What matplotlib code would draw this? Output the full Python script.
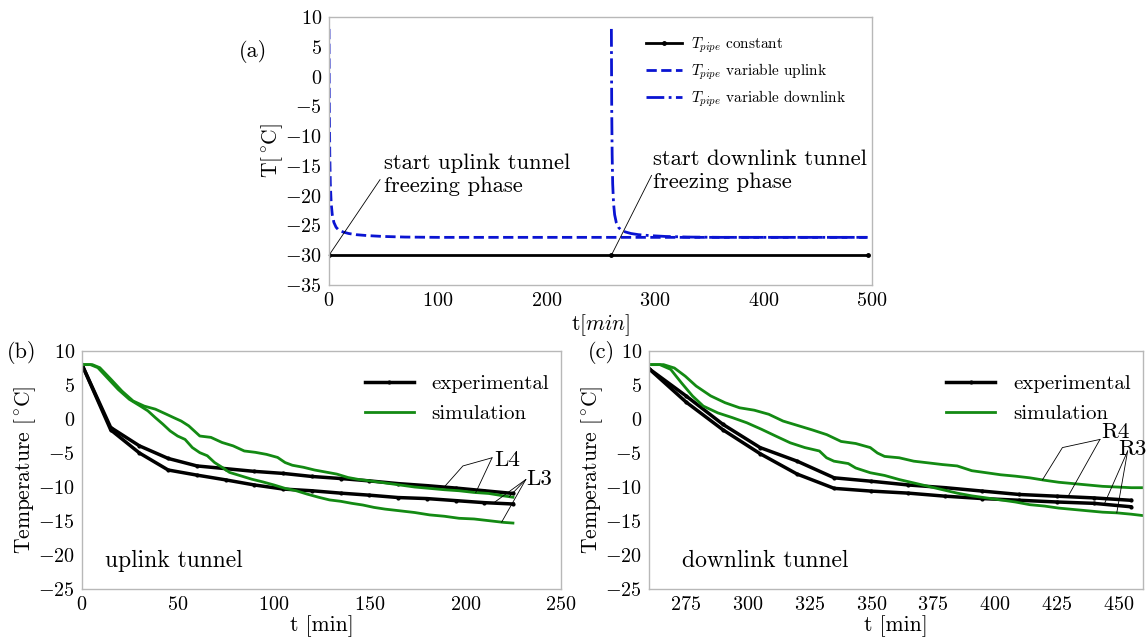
import numpy as np
import matplotlib
matplotlib.use('Agg')
import matplotlib.pyplot as plt

plt.rcParams['font.family'] = ['cmr10', 'DejaVu Serif']
plt.rcParams['mathtext.fontset'] = 'cm'
plt.rcParams['axes.formatter.use_mathtext'] = True

# (a) pipe temperature during the freezing phases
t_const = [0, 260, 496]
T_const = [-30, -30, -30]

t_up = [0, 0.3, 0.7, 1.2, 2, 3, 4.5, 6.5, 9, 13, 18, 25, 35, 50, 70, 100, 496]
T_up = [8, -5, -13, -18, -21.3, -23.2, -24.5, -25.3, -25.8, -26.1, -26.35, -26.55,
        -26.7, -26.85, -26.95, -27.0, -27.0]

t_down = [260, 260.3, 260.7, 261.2, 262, 263, 264.5, 266.5, 269, 273, 278, 285,
          295, 310, 330, 360, 496]
T_down = [8, -5, -13, -18, -21.3, -23.2, -24.5, -25.3, -25.8, -26.1, -26.35, -26.55,
          -26.7, -26.85, -26.95, -27.0, -27.0]

# (b) uplink tunnel, sensors L3 / L4
t_exp_up = [0, 15, 30, 45, 60, 75, 90, 105, 120, 135, 150, 165, 180, 195, 210, 225]
L4_exp = [8.0, -1.25, -3.95, -5.8, -6.9, -7.3, -7.7, -8.0, -8.45, -8.75, -9.1, -9.5,
          -9.8, -10.15, -10.55, -10.95]
L3_exp = [8.0, -1.6, -5.0, -7.5, -8.25, -8.95, -9.7, -10.3, -10.55, -10.9, -11.2,
          -11.55, -11.7, -12.0, -12.3, -12.5]

t_L4_sim = [0, 5.4, 9.3, 15.1, 20.9, 26.7, 32.5, 38.3, 44.1, 47.9, 51.8, 55.7, 61.5,
            67.3, 73.1, 78.9, 84.7, 90.5, 96.3, 102.1, 106, 109.8, 115.6, 121.4, 127.2,
            133, 138.8, 144.6, 150.4, 158.2, 165.9, 173.6, 181.4, 189.1, 196.8, 204.6,
            212.3, 220, 224.9]
L4_sim = [8.0, 8.0, 7.55, 5.85, 4.1, 2.65, 1.9, 1.45, 0.7, 0.2, -0.3, -1.0, -2.5,
          -2.7, -3.45, -3.95, -4.7, -4.9, -5.2, -5.65, -6.4, -6.8, -7.1, -7.5, -7.8,
          -8.1, -8.6, -8.9, -9.1, -9.4, -9.7, -10.0, -10.2, -10.4, -10.55, -10.8,
          -10.95, -11.3, -11.5]

t_L3_sim = [0, 4.4, 8.3, 13.1, 18.9, 24.7, 30.5, 34.4, 38.3, 42.2, 46.0, 49.9, 53.8,
            57.6, 61.5, 65.4, 69.2, 73.1, 77, 82.8, 88.6, 94.4, 100.2, 106, 111.8,
            117.6, 123.4, 129.2, 135, 140.8, 146.6, 152.4, 158.2, 165.9, 173.6, 181.4,
            189.1, 196.8, 204.6, 212.3, 220, 224.9]
L3_sim = [8.0, 8.0, 7.55, 6.1, 4.35, 2.9, 1.9, 1.2, 0.2, -0.75, -1.75, -2.5, -3.0,
          -4.2, -4.95, -5.4, -6.4, -7.1, -7.85, -8.35, -8.85, -9.25, -9.7, -10.2,
          -10.55, -11.05, -11.5, -11.9, -12.1, -12.4, -12.65, -13.0, -13.25, -13.5,
          -13.75, -14.1, -14.3, -14.6, -14.7, -14.95, -15.2, -15.3]

# (c) downlink tunnel, sensors R3 / R4
t_exp_down = [260, 275, 290, 305, 320, 335, 350, 365, 380, 395, 410, 425, 440, 455]
R4_exp = [7.4, 3.4, -0.8, -4.2, -6.2, -8.65, -9.15, -9.7, -10.1, -10.6, -11.1,
          -11.35, -11.6, -11.95]
R3_exp = [7.4, 2.5, -1.6, -5.1, -8.1, -10.2, -10.6, -10.9, -11.35, -11.7, -11.95,
          -12.2, -12.4, -12.9]

t_R4_sim = [260, 265.9, 270.3, 274.7, 279.1, 285, 290.8, 296.7, 302.6, 308.5, 314.3,
            320.2, 326.1, 332, 334.9, 337.8, 343.7, 349.6, 352.5, 355.4, 361.3, 367.2,
            373.1, 378.9, 384.8, 390.7, 396.6, 402.4, 408.3, 414.2, 420.1, 425.9,
            431.8, 437.7, 443.6, 449.4, 455.3, 460]
R4_sim = [8.0, 8.0, 7.5, 6.3, 4.85, 3.4, 2.4, 1.65, 1.3, 0.7, -0.3, -0.95, -1.6, -2.3,
          -2.8, -3.3, -3.6, -4.2, -5.0, -5.5, -5.7, -6.2, -6.45, -6.7, -6.9, -7.6,
          -7.9, -8.2, -8.4, -8.65, -9.0, -9.3, -9.5, -9.7, -9.9, -10.0, -10.1, -10.1]

t_R3_sim = [260, 264.4, 268.8, 273.2, 277.6, 282, 287.9, 293.8, 299.6, 305.5, 311.3,
            317.2, 323.1, 329, 331.9, 334.9, 340.7, 343.7, 349.6, 355.4, 361.3, 367.2,
            373.1, 378.9, 384.8, 390.7, 396.6, 402.4, 408.3, 414.2, 420.1, 425.9,
            431.8, 437.7, 443.6, 449.4, 455.3, 460]
R3_sim = [8.0, 8.0, 7.3, 5.3, 3.4, 1.9, 0.9, 0.2, -0.55, -1.5, -2.5, -3.5, -4.2, -4.7,
          -5.7, -6.2, -6.55, -7.2, -7.9, -8.3, -8.9, -9.4, -9.9, -10.4, -10.9, -11.3,
          -11.6, -11.9, -12.2, -12.6, -12.8, -13.1, -13.3, -13.5, -13.7, -13.8, -14.0,
          -14.2]

BLACK = 'black'
GREEN = '#138a13'
BLUE = '#0a14d2'
SPINE = '#b8b8b8'


def style_axes(ax):
    for s in ax.spines.values():
        s.set_color(SPINE)
        s.set_linewidth(1.0)
    ax.tick_params(length=0, labelsize=14.5, pad=5)


def leader(ax, anchor, target, knee=None):
    # thin pointer line from a curve label to a point on the curve
    xs = [anchor[0]] + ([knee[0]] if knee else []) + [target[0]]
    ys = [anchor[1]] + ([knee[1]] if knee else []) + [target[1]]
    ax.plot(xs, ys, color='black', lw=0.6, clip_on=False)


def on_curve(t, ts, vals):
    return (t, float(np.interp(t, ts, vals)))


fig = plt.figure(figsize=(11.48, 6.38), dpi=100)
ax_a = fig.add_axes([0.2866, 0.5533, 0.473, 0.420])
ax_b = fig.add_axes([0.0714, 0.0768, 0.4173, 0.373])
ax_c = fig.add_axes([0.5653, 0.0768, 0.4303, 0.373])

# ---- (a)
ax_a.plot(t_const, T_const, color=BLACK, lw=2, marker='.', ms=5,
          label=r'$T_{pipe}$ constant')
ax_a.plot(t_up, T_up, color=BLUE, lw=2, ls='--', label=r'$T_{pipe}$ variable uplink')
ax_a.plot(t_down, T_down, color=BLUE, lw=2, ls='-.',
          label=r'$T_{pipe}$ variable downlink')
ax_a.set_xlim(0, 500)
ax_a.set_ylim(-35, 10)
ax_a.set_xticks(np.arange(0, 501, 100))
ax_a.set_yticks(np.arange(-35, 11, 5))
ax_a.set_xlabel(r't[$min$]', fontsize=15.5, labelpad=2)
ax_a.set_ylabel(r'T[$^\circ\!$C]', fontsize=15.5, labelpad=0)
style_axes(ax_a)
ax_a.legend(loc='upper left', bbox_to_anchor=(0.584, 0.932), frameon=False, fontsize=11,
            handlelength=2.35, handletextpad=0.6, labelspacing=0.42,
            borderaxespad=0, borderpad=0)

# va='baseline' puts the last line of the two-line text on y
ax_a.text(51, -19.4, 'start uplink tunnel\nfreezing phase', fontsize=16.3,
          va='baseline', linespacing=1.2)
leader(ax_a, (47, -17.3), (t_const[0], T_const[0]))
ax_a.text(298, -18.7, 'start downlink tunnel\nfreezing phase', fontsize=16.3,
          va='baseline', linespacing=1.2)
leader(ax_a, (297, -16.6), (t_const[1], T_const[1]))
fig.text(0.2204, 0.9185, '(a)', fontsize=16, ha='center', va='center')

# ---- (b)
ax_b.plot(t_exp_up, L4_exp, color=BLACK, lw=2.5, marker='.', ms=4, label='experimental')
ax_b.plot(t_exp_up, L3_exp, color=BLACK, lw=2.5, marker='.', ms=4)
ax_b.plot(t_L4_sim, L4_sim, color=GREEN, lw=2, label='simulation')
ax_b.plot(t_L3_sim, L3_sim, color=GREEN, lw=2)
ax_b.set_xlim(0, 250)
ax_b.set_ylim(-25, 10)
ax_b.set_xticks(np.arange(0, 251, 50))
ax_b.set_yticks(np.arange(-25, 11, 5))
ax_b.set_xlabel('t [min]', fontsize=15.5, labelpad=1)
ax_b.set_ylabel(r'Temperature [$^\circ\!$C]', fontsize=15.5, labelpad=0)
style_axes(ax_b)
ax_b.legend(loc='upper left', bbox_to_anchor=(0.59, 0.9), frameon=False, fontsize=15,
            handlelength=2.35, handletextpad=0.85, labelspacing=0.55,
            borderaxespad=0, borderpad=0)
ax_b.text(12, -21.7, 'uplink tunnel', fontsize=17, va='baseline')

ax_b.text(215, -6, 'L4', fontsize=16.5, va='center')
leader(ax_b, (214, -5.7), on_curve(189, t_exp_up, L4_exp), knee=(198.8, -6.9))
leader(ax_b, (214, -5.7), on_curve(205.5, t_L4_sim, L4_sim))
ax_b.text(231.6, -8.8, 'L3', fontsize=16.5, va='center')
leader(ax_b, (231.6, -8.9), on_curve(223, t_L4_sim, L4_sim))
leader(ax_b, (231.6, -8.9), on_curve(214.7, t_exp_up, L3_exp))
leader(ax_b, (231.6, -8.9), on_curve(219, t_L3_sim, L3_sim))
fig.text(0.019, 0.447, '(b)', fontsize=16, ha='center', va='center')

# ---- (c)
ax_c.plot(t_exp_down, R4_exp, color=BLACK, lw=2.5, marker='.', ms=4, label='experimental')
ax_c.plot(t_exp_down, R3_exp, color=BLACK, lw=2.5, marker='.', ms=4)
ax_c.plot(t_R4_sim, R4_sim, color=GREEN, lw=2, label='simulation')
ax_c.plot(t_R3_sim, R3_sim, color=GREEN, lw=2)
ax_c.set_xlim(260, 460)
ax_c.set_ylim(-25, 10)
ax_c.set_xticks(np.arange(275, 451, 25))
ax_c.set_yticks(np.arange(-25, 11, 5))
ax_c.set_xlabel('t [min]', fontsize=15.5, labelpad=1)
ax_c.set_ylabel(r'Temperature [$^\circ\!$C]', fontsize=15.5, labelpad=0)
style_axes(ax_c)
ax_c.legend(loc='upper left', bbox_to_anchor=(0.602, 0.9), frameon=False, fontsize=15,
            handlelength=2.35, handletextpad=0.85, labelspacing=0.55,
            borderaxespad=0, borderpad=0)
ax_c.text(273.2, -21.8, 'downlink tunnel', fontsize=17, va='baseline')

ax_c.text(443.3, -1.9, 'R4', fontsize=16.5, va='center', clip_on=False)
leader(ax_c, (442.6, -3.0), on_curve(419.3, t_R4_sim, R4_sim), knee=(427.4, -4.2))
leader(ax_c, (442.6, -3.0), on_curve(429.6, t_exp_down, R4_exp))
ax_c.text(450, -4.5, 'R3', fontsize=16.5, va='center', clip_on=False)
leader(ax_c, (453.8, -4.7), on_curve(444.3, t_exp_down, R3_exp))
leader(ax_c, (453.8, -4.7), on_curve(449.4, t_R3_sim, R3_sim))
fig.text(0.524, 0.447, '(c)', fontsize=16, ha='center', va='center')

fig.savefig('out.png', dpi=100)
